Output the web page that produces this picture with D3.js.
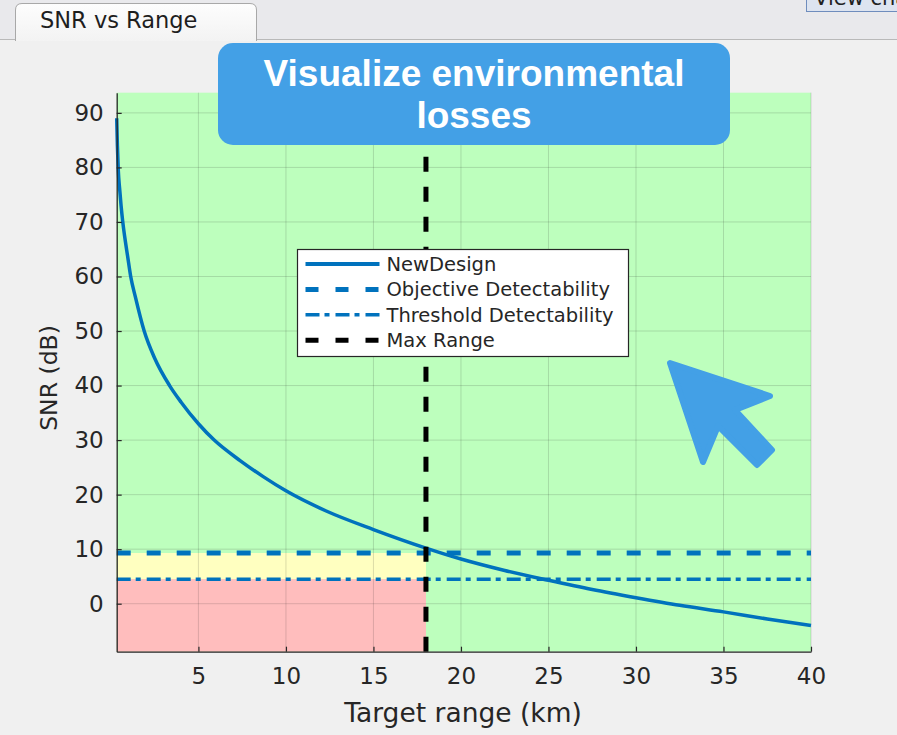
<!DOCTYPE html>
<html>
<head>
<meta charset="utf-8">
<script src="https://cdn.jsdelivr.net/npm/d3@7"></script>
<style>
  body { margin: 0; background: #f0f0f0; overflow: hidden; }
  text { font-family: "DejaVu Sans", sans-serif; }
  text.callout { font-family: "Liberation Sans", Arial, sans-serif; font-weight: bold; }
</style>
</head>
<body>
<div id="chart"></div>
<script>
// SNR curve
const rangeKm = [0.33, 0.37, 0.42, 0.50, 0.58, 0.67, 0.80, 0.95, 1.13, 1.40, 1.90, 2.50, 3.35, 4.00, 5.00, 5.90,
  7.40, 8.70, 10.0, 12.3, 15.0, 18.0, 20.0, 22.5, 25.0, 27.5, 30.0, 32.5, 35.0, 37.5, 40.0];
const snrDb = [89.0, 84.0, 79.5, 76.0, 73.0, 70.2, 67.0, 63.8, 60.0, 56.2, 50.0, 45.0, 40.0, 37.0, 33.0, 30.0,
  26.2, 23.3, 20.7, 17.0, 13.6, 10.2, 8.2, 6.1, 4.3, 2.6, 1.1, -0.3, -1.5, -2.8, -4.0];

const objectiveDb = 9.3;
const thresholdDb = 4.5;
const maxRangeKm = 18.0;

const xDomain = [0.33, 40];
const yDomain = [-8.8, 93.7];
const xTicks = [5, 10, 15, 20, 25, 30, 35, 40];
const yTicks = [0, 10, 20, 30, 40, 50, 60, 70, 80, 90];

const legendLabels = ['NewDesign', 'Objective Detectability', 'Threshold Detectability', 'Max Range'];

const W = 897, H = 735;
const margin = {top: 92.7, right: 86, bottom: 83.3, left: 116.7};
const width = W - margin.left - margin.right;
const height = H - margin.top - margin.bottom;

const blue = '#0072BD';
const axisCol = '#262626';

const svg = d3.select('#chart').append('svg')
    .attr('width', W)
    .attr('height', H);

// window chrome: tab bar
svg.append('rect').attr('x', 0).attr('y', 0).attr('width', W).attr('height', 39).attr('fill', '#e9e9ec');
svg.append('line').attr('x1', 0).attr('x2', W).attr('y1', 39.5).attr('y2', 39.5).attr('stroke', '#b9b9b9');
const grad = svg.append('defs').append('linearGradient').attr('id', 'tabGrad').attr('x1', 0).attr('x2', 0).attr('y1', 0).attr('y2', 1);
grad.append('stop').attr('offset', '0%').attr('stop-color', '#fdfdfd');
grad.append('stop').attr('offset', '100%').attr('stop-color', '#f3f3f3');
svg.append('path')
    .attr('d', 'M15.5,41 L15.5,10 Q15.5,3.5 22,3.5 L250,3.5 Q256.5,3.5 256.5,10 L256.5,41')
    .attr('fill', 'url(#tabGrad)')
    .attr('stroke', '#a8a8a8');
svg.append('text')
    .attr('x', 40).attr('y', 28)
    .attr('font-size', 22.5)
    .attr('fill', '#1e1e1e')
    .text('SNR vs Range');
svg.append('rect')
    .attr('x', 806.5).attr('y', -6).attr('width', 120).attr('height', 17.5)
    .attr('fill', '#dde4f0').attr('stroke', '#6f8dbd');
svg.append('text')
    .attr('x', 814).attr('y', 5)
    .attr('font-size', 21)
    .attr('fill', '#222')
    .text('View chart');

const plotArea = svg.append('g')
    .attr('transform', `translate(${margin.left}, ${margin.top})`);

const x = d3.scaleLinear().domain(xDomain).range([0, width]);
const y = d3.scaleLinear().domain(yDomain).range([height, 0]);

// coloured zones
plotArea.append('rect')
    .attr('width', width).attr('height', height)
    .attr('fill', '#bdffbd');
plotArea.append('rect')
    .attr('x', 0).attr('y', y(objectiveDb))
    .attr('width', x(maxRangeKm)).attr('height', y(thresholdDb) - y(objectiveDb))
    .attr('fill', '#ffffc0');
plotArea.append('rect')
    .attr('x', 0).attr('y', y(thresholdDb))
    .attr('width', x(maxRangeKm)).attr('height', height - y(thresholdDb))
    .attr('fill', '#ffbdbd');

// grid
const grid = plotArea.append('g').attr('stroke', 'rgba(38,38,38,0.16)').attr('stroke-width', 1);
grid.selectAll('.gx').data(xTicks).join('line')
    .attr('x1', d => x(d)).attr('x2', d => x(d))
    .attr('y1', 0).attr('y2', height);
grid.selectAll('.gy').data(yTicks).join('line')
    .attr('x1', 0).attr('x2', width)
    .attr('y1', d => y(d)).attr('y2', d => y(d));

// SNR curve
const pts = rangeKm.map((r, i) => [r, snrDb[i]]);
plotArea.append('path')
    .datum(pts)
    .attr('fill', 'none')
    .attr('stroke', blue)
    .attr('stroke-width', 3.5)
    .attr('d', d3.line().x(d => x(d[0])).y(d => y(d[1])).curve(d3.curveMonotoneX));

// detectability lines
plotArea.append('line')
    .attr('x1', 0).attr('x2', width)
    .attr('y1', y(objectiveDb)).attr('y2', y(objectiveDb))
    .attr('stroke', blue).attr('stroke-width', 5)
    .attr('stroke-dasharray', '14,16');
plotArea.append('line')
    .attr('x1', 0).attr('x2', width)
    .attr('y1', y(thresholdDb)).attr('y2', y(thresholdDb))
    .attr('stroke', blue).attr('stroke-width', 3.5)
    .attr('stroke-dasharray', '14,5,5,6');

// max range
plotArea.append('line')
    .attr('x1', x(maxRangeKm)).attr('x2', x(maxRangeKm))
    .attr('y1', height).attr('y2', 0)
    .attr('stroke', '#000').attr('stroke-width', 5)
    .attr('stroke-dasharray', '15,15');

// axes
const yAxisGroup = plotArea.append('g')
    .call(d3.axisLeft(y).tickValues(yTicks).tickSizeInner(-5).tickSizeOuter(0).tickPadding(13));
const xAxisGroup = plotArea.append('g')
    .attr('transform', `translate(0, ${height})`)
    .call(d3.axisBottom(x).tickValues(xTicks).tickSizeInner(-5).tickSizeOuter(0).tickPadding(16));

[yAxisGroup, xAxisGroup].forEach(g => {
  g.select('.domain').attr('stroke', axisCol).attr('stroke-width', 1.3);
  g.selectAll('.tick line').attr('stroke', axisCol).attr('stroke-width', 1.2);
  g.selectAll('.tick text')
      .attr('font-family', '"DejaVu Sans", sans-serif')
      .attr('font-size', 23)
      .attr('fill', axisCol);
});

svg.append('text')
    .attr('x', 463)
    .attr('y', 722)
    .attr('text-anchor', 'middle')
    .attr('font-size', 26.5)
    .attr('fill', axisCol)
    .text('Target range (km)');
svg.append('text')
    .attr('transform', 'translate(57, 378) rotate(-90)')
    .attr('text-anchor', 'middle')
    .attr('font-size', 23.5)
    .attr('fill', axisCol)
    .text('SNR (dB)');

// legend
const legend = svg.append('g').attr('transform', 'translate(297.5, 249.5)');
legend.append('rect')
    .attr('width', 331).attr('height', 107)
    .attr('fill', '#fff').attr('stroke', axisCol).attr('stroke-width', 1.2);
const legendStyles = [
  {stroke: blue, w: 4, dash: null},
  {stroke: blue, w: 5, dash: '13,17'},
  {stroke: blue, w: 3.5, dash: '14,5,5,6'},
  {stroke: '#000', w: 5, dash: '13,17'}
];
const rows = legend.selectAll('.row')
    .data(legendLabels)
    .join('g')
    .attr('transform', (d, i) => `translate(0, ${14.5 + i * 25.4})`);
rows.append('line')
    .attr('x1', 8).attr('x2', 82)
    .attr('stroke', (d, i) => legendStyles[i].stroke)
    .attr('stroke-width', (d, i) => legendStyles[i].w)
    .attr('stroke-dasharray', (d, i) => legendStyles[i].dash);
rows.append('text')
    .attr('x', 89).attr('dy', '0.36em')
    .attr('font-size', 19.5)
    .attr('fill', axisCol)
    .text(d => d);

// callout
const callout = svg.append('g');
callout.append('rect')
    .attr('x', 218).attr('y', 43).attr('width', 512).attr('height', 102).attr('rx', 15)
    .attr('fill', '#43a0e6');
callout.selectAll('text')
    .data(['Visualize environmental', 'losses'])
    .join('text')
    .attr('class', 'callout')
    .attr('x', 474)
    .attr('y', (d, i) => 86 + i * 42)
    .attr('text-anchor', 'middle')
    .attr('font-size', 37)
    .attr('fill', '#fff')
    .text(d => d);

// pointer arrow
const arrowPts = [[670, 363], [770, 396], [735, 410], [772, 450], [757, 465], [718, 426], [703, 462]];
svg.append('path')
    .attr('d', d3.line()(arrowPts) + 'Z')
    .attr('fill', '#43a0e6')
    .attr('stroke', '#43a0e6')
    .attr('stroke-width', 6)
    .attr('stroke-linejoin', 'round');
</script>
</body>
</html>
